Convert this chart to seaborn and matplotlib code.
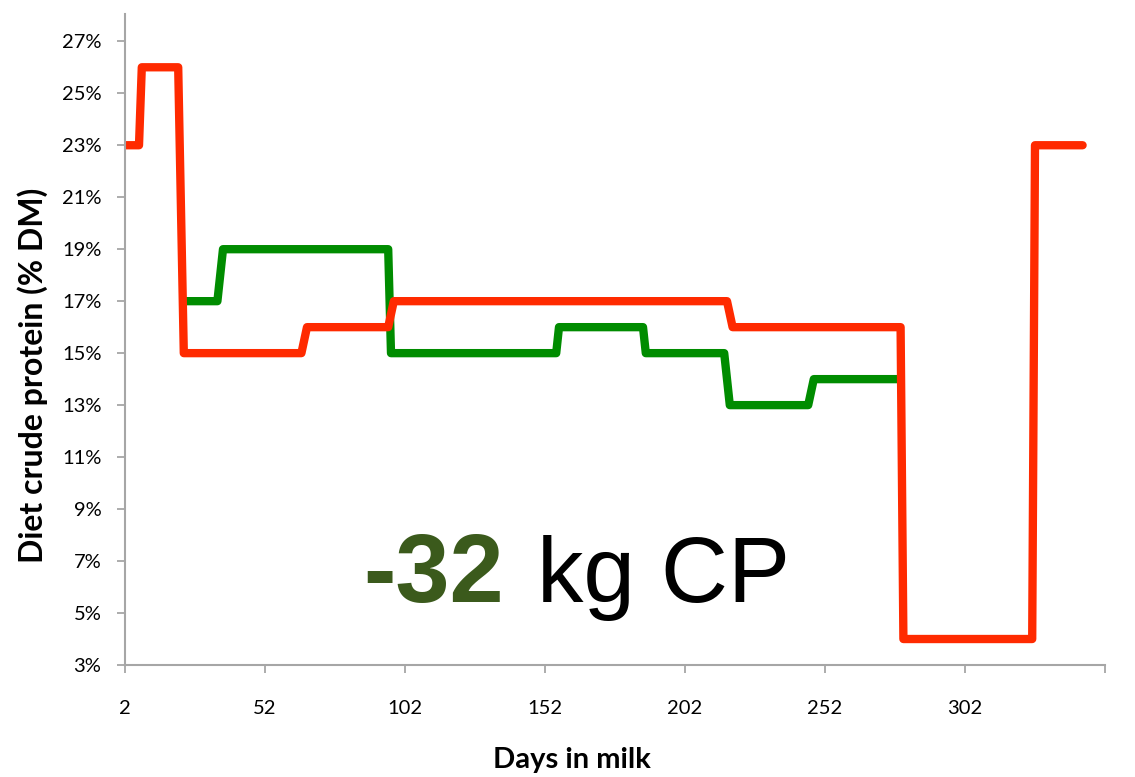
import matplotlib
matplotlib.use("Agg")
import matplotlib.pyplot as plt
import seaborn as sns
import pandas as pd

# Data (vertices of the stepped diet curves)
red_days = [2, 7, 8, 21, 23, 65, 67, 96, 98, 217, 219, 279, 280, 326, 327, 344]
red_cp = [23, 23, 26, 26, 15, 15, 16, 16, 17, 17, 16, 16, 4, 4, 23, 23]

green_days = [23, 35, 37, 96, 97, 156, 157, 187, 188, 216, 218, 246, 248, 278]
green_cp = [17, 17, 19, 19, 15, 15, 16, 16, 15, 15, 13, 13, 14, 14]

y_ticks = [3, 5, 7, 9, 11, 13, 15, 17, 19, 21, 23, 25, 27]
y_tick_labels = [f"{v}%" for v in y_ticks]
x_ticks = [2, 52, 102, 152, 202, 252, 302, 352]
x_tick_labels = ["2", "52", "102", "152", "202", "252", "302", ""]

df = pd.concat([
    pd.DataFrame({"day": red_days, "cp": red_cp, "series": "red"}),
    pd.DataFrame({"day": green_days, "cp": green_cp, "series": "green"}),
])

sns.set_theme(style="white")
plt.rcParams["font.family"] = ["Lato", "DejaVu Sans"]

W, H = 1135, 777
fig = plt.figure(figsize=(W / 100, H / 100), dpi=100)
ax = fig.add_axes([125 / W, 1 - 665 / H, (1105 - 125) / W, (665 - 14) / H])

palette = {"red": "#ff2a00", "green": "#008c00"}
sns.lineplot(data=df, x="day", y="cp", hue="series",
             estimator=None, sort=False, palette=palette, hue_order=["green", "red"],
             linewidth=6, ax=ax, legend=False)
for line in ax.get_lines():
    line.set_solid_joinstyle("round")
    line.set_solid_capstyle("round")

ax.set_xlim(2, 352)
ax.set_ylim(3, 28.05)
ax.set_yticks(y_ticks)
ax.set_yticklabels(y_tick_labels)
ax.set_xticks(x_ticks)
ax.set_xticklabels(x_tick_labels)

for side in ["top", "right"]:
    ax.spines[side].set_visible(False)
for side in ["left", "bottom"]:
    ax.spines[side].set_color("#a6a6a6")
    ax.spines[side].set_linewidth(1.5)

ax.tick_params(axis="y", which="both", left=True, length=6, width=1.3, color="#a6a6a6",
               labelsize=14.5, pad=11, labelcolor="black")
ax.tick_params(axis="x", which="both", bottom=True, length=6, width=1.3, color="#a6a6a6",
               labelsize=14.5, pad=19, labelcolor="black")

ax.set_xlabel("Days in milk", fontsize=21, fontweight="bold", color="black")
ax.set_ylabel("Diet crude protein (% DM)", fontsize=23, fontweight="bold", color="black")
ax.xaxis.set_label_coords((572 - 125) / (1105 - 125), -(760 - 665) / (665 - 14))
ax.yaxis.set_label_coords(-(125 - 33) / (1105 - 125), (665 - 375) / (665 - 14))
ax.xaxis.label.set_va("center")
ax.yaxis.label.set_va("center")

fig.text(363 / W, 1 - 602 / H, "-32", fontsize=70, fontweight="bold", color="#3b5a1c",
         family=["Liberation Sans", "DejaVu Sans"], ha="left", va="baseline")
fig.text(537 / W, 1 - 602 / H, "kg CP", fontsize=67, color="black",
         family=["Liberation Sans", "DejaVu Sans"], ha="left", va="baseline")

fig.savefig("out.png", dpi=100, facecolor="white")
